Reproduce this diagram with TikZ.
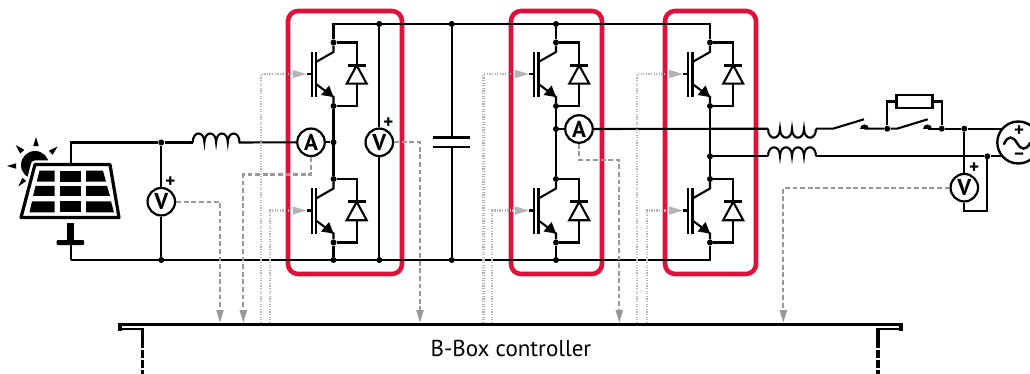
\documentclass[tikz,border=0pt]{standalone}
\usepackage{fontspec}
\setmainfont{PT Sans}
\usetikzlibrary{arrows.meta}
\definecolor{boxred}{HTML}{E0103A}
\definecolor{sensegray}{HTML}{999999}
\definecolor{gategray}{HTML}{B4B4B4}
\tikzset{
  wire/.style={line width=2.1pt,black,line join=miter},
  dot/.style={circle,fill=black,inner sep=0pt,minimum size=6pt},
  meter/.style={circle,draw=black,fill=white,line width=2.2pt,inner sep=0pt,minimum size=27.5pt,
    font=\fontsize{23}{23}\selectfont\bfseries},
  sign/.style={inner sep=0pt,font=\fontsize{19}{19}\selectfont\bfseries},
  legbox/.style={draw=boxred,line width=4.6pt,rounded corners=10pt},
  sense/.style={draw=sensegray,line width=2.1pt,dash pattern=on 4.8pt off 2.8pt,
    -{Triangle[length=13pt,width=7pt,fill=sensegray]}},
  gatesig/.style={draw=gategray,line width=2.1pt,dash pattern=on 1.3pt off 1.3pt,
    -{Triangle[length=14pt,width=7.6pt,fill=gategray]}},
}
\begin{document}
\begin{tikzpicture}[x=1pt,y=-1pt]
  \useasboundingbox (0,0) rectangle (1030,374);
  % red boxes
  \draw[legbox] (288,11) rectangle (402,274);
  \draw[legbox] (511,11) rectangle (602,274);
  \draw[legbox] (665,11) rectangle (756,274);
  % sun
  \fill (35,165) circle (14);
  \begin{scope}[shift={(36,166)}]
    \foreach \a/\r in {-90/29,-134/29,-42/29,180/29,131/27}
      \fill (\a:\r) -- ({\a-8}:\r-9) -- ({\a+8}:\r-9) -- cycle;
  \end{scope}
  % solar panel
  \draw[white,line width=8pt,line join=round] (35,164.5) -- (110,164.5) -- (119,217.5) -- (21,217.5) -- cycle;
  \draw[fill=white,line width=3.2pt,line join=round] (35,164.5) -- (110,164.5) -- (119,217.5) -- (21,217.5) -- cycle;
  \foreach \ya/\yb/\la/\lb/\ra/\rb in {170.7/181.7/39.5/36.7/103/106,186/196/35.5/33/107/110,201.3/212.3/32/29.5/111/114}{
    \fill (\la,\ya) -- (54.7,\ya) -- (54.7,\yb) -- (\lb,\yb) -- cycle;
    \fill (60.3,\ya) rectangle (80.7,\yb);
    \fill (86,\ya) -- (\ra,\ya) -- (\rb,\yb) -- (86,\yb) -- cycle;
  }
  \fill (66.7,223) rectangle (74,240);
  \fill[rounded corners=1pt] (56.7,240) rectangle (84,245);
  % main points
  \coordinate (pvT) at (70.7,164);
  \coordinate (pvB) at (70.7,245);
  \coordinate (topL) at (333.5,24);
  \coordinate (topR) at (710,24);
  \coordinate (botL) at (70.7,260);
  \coordinate (botR) at (710,260);
  \coordinate (pvC) at (70.7,142.5);
  \coordinate (LdcA) at (192.7,142.5);
  \coordinate (LacA) at (768,128.7);
  \coordinate (LacB) at (768,156.3);
  \node[dot] (pvTop) at (161.3,142.5) {};
  \node[dot] (pvBot) at (161.3,260) {};
  \node[dot] (vdcT) at (379.3,24) {};
  \node[dot] (vdcB) at (379.3,260) {};
  \node[dot] (capT) at (451.7,24) {};
  \node[dot] (capB) at (451.7,260) {};
  \node[dot] (legbT) at (556,24) {};
  \node[dot] (legbB) at (556,260) {};
  \node[dot] (legaB) at (333.5,260) {};
  \node[dot] (midA) at (333.5,142.3) {};
  \node[dot] (midB) at (556,129) {};
  \node[dot] (midC) at (710,156.3) {};
  % meters
  \node[meter] (V1) at (161.3,201.7) {V};
  \node[meter] (A1) at (311,142.3) {A};
  \node[meter] (V2) at (379.3,142.3) {V};
  \node[meter] (A2) at (579,129) {A};
  \node[meter] (V3) at (964.3,187.7) {V};
  \node[sign] at (170.5,181.7) {+};
  \node[sign] at (388.3,122.7) {+};
  \node[sign] at (974,168.3) {+};
  % IGBT legs
  \foreach \leg/\cx/\cy/\gx in {aH/333.5/42.5/261,aL/333.5/179/270,bH/556/42.5/483.5,bL/556/179/492.3,cH/710/42.5/637.3,cL/710/179/646.7}{
    \begin{scope}[shift={(\cx,\cy)}]
      \node[dot] (\leg c) at (0,0) {};
      \node[dot] (\leg e) at (0,63.5) {};
      \coordinate (\leg g) at (-21.8,31.5);
      \coordinate (\leg t) at (-26.8,31.5);
      \draw[wire] (-21.8,9.5) -- (-21.8,54.5) (-17.5,9.5) -- (-17.5,54.5);
      \draw[wire] (\leg t) -- (\leg g);
      \draw[wire] (\leg c) -- (0,9.5) -- (-17.5,19.5);
      \draw[wire] (\leg e) -- (0,54.5) -- (-17.5,41.5);
      \fill (0,54.5) -- (-12.5,52.5) -- (-4.4,43) -- cycle;
      % diode
      \draw[wire] (\leg c) -- (23.2,0) -- (23.2,63.5) -- (\leg e);
      \draw[wire,fill=white] (23.2,22.8) -- (33.2,41.2) -- (13.2,41.2) -- cycle;
      \draw[line width=3pt] (14.2,22.8) -- (32.2,22.8);
    \end{scope}
  }
  % dc side
  \draw[wire] (botL) -- (pvB);
  \draw[wire] (pvT) -- (pvC) -- (pvTop) -- (LdcA);
  \draw[wire] (LdcA) \foreach \i in {1,...,4}{.. controls +(0,-12) and +(0,-12) .. ++(11.7,0)} -- (A1.west);
  \draw[wire] (pvTop) -- (V1.north);
  \draw[wire] (V1.south) -- (pvBot);
  \draw[wire] (botL) -- (botR) -- (cLe);
  \draw[wire] (aHc) -- (topL) -- (topR) -- (cHc);
  \draw[wire] (A1.east) -- (midA);
  \draw[wire] (aHe) -- (aLc);
  \draw[wire] (aLe) -- (legaB);
  \draw[wire] (vdcT) -- (V2.north);
  \draw[wire] (V2.south) -- (vdcB);
  \draw[wire] (legbT) -- (bHc);
  \draw[wire] (bHe) -- (bLc);
  \draw[wire] (bLe) -- (legbB);
  \draw[wire] (cHe) -- (cLc);
  % capacitor
  \coordinate (capU) at (451.7,137.3);
  \coordinate (capL) at (451.7,147);
  \draw[wire] (capT) -- (capU);
  \draw[wire] (capL) -- (capB);
  \draw[line width=2.8pt] (433,137.3) -- (470,137.3);
  \draw[line width=2.8pt] (433,147) -- (470,147);
  % ac side
  \draw[wire] (A2) -- (midB);
  \draw[wire] (A2.east) -- (LacA);
  \draw[wire] (midC) -- (LacB);
  \draw[wire] (LacA) \foreach \i in {1,...,4}{.. controls +(0,12) and +(0,12) .. ++(12,0)} coordinate (LacAe);
  \draw[wire] (LacB) \foreach \i in {1,...,4}{.. controls +(0,-12) and +(0,-12) .. ++(12,0)} coordinate (LacBe);
  \coordinate (swAa) at (833,128.7);
  \coordinate (swAb) at (864.3,128.7);
  \node[dot] (swBa) at (887.3,128.7) {};
  \coordinate (swBb) at (897,128.7);
  \coordinate (swBc) at (927.7,128.7);
  \node[dot] (swBd) at (941.7,128.7) {};
  \node[dot] (gridA) at (964.3,128.7) {};
  \node[dot] (gridB) at (987.3,156.3) {};
  \node[draw,line width=2.1pt,inner sep=0pt,minimum width=36pt,minimum height=12.6pt] (res) at (914.5,101.5) {};
  \coordinate (srcA) at (1002.5,128.7);
  \coordinate (srcB) at (1002.5,156.3);
  \draw[wire] (LacAe) -- (swAa) -- (864,119.3);
  \draw[wire] (swAb) -- (swBa) -- (swBb) -- (927.7,119.3);
  \draw[wire] (swBc) -- (swBd) -- (gridA) -- (srcA);
  \draw[wire] (LacBe) -- (gridB) -- (srcB);
  \foreach \bx in {864.3,927.7}
    \fill (\bx-4.5,128.7) .. controls (\bx-4.5,123) and (\bx+4.5,123) .. (\bx+4.5,128.7) -- cycle;
  \draw[wire] (swBa) |- (res.west);
  \draw[wire] (res.east) -| (swBd);
  \draw[wire] (gridA) -- (V3.north);
  \draw[wire] (V3.south) |- (987.3,210.7) -- (gridB);
  % grid source
  \node[circle,draw,line width=2.4pt,inner sep=0pt,minimum size=42pt] (grid) at (1018.3,142.5) {};
  \draw[line width=2.4pt,line cap=round] (1004,144) .. controls (1008,135) and (1013,136) .. (1017,143) .. controls (1021,150) and (1026,151) .. (1030,143);
  \node[sign] at (1019,130.7) {+};
  \node[sign] at (1019,157) {−};
  % controller
  \coordinate (ctlL) at (119,324);
  \coordinate (ctlR) at (902,324);
  \draw[line width=3pt] (ctlL) -- (ctlR);
  \draw[line width=2pt] (119,328.5) -- (144,328.5);
  \draw[line width=2pt] (877,328.5) -- (902,328.5);
  \draw[line width=3.4pt] (120,322.5) -- (120,330.5);
  \draw[line width=3.4pt] (901,322.5) -- (901,330.5);
  \foreach \lx in {142.7,878}
    \draw[line width=3.2pt,dash pattern=on 20pt off 2.4pt on 7.4pt off 2.4pt on 7.4pt off 2.4pt on 7.4pt off 2.4pt] (\lx,328) -- (\lx,374);
  \node[inner sep=0pt,anchor=base] (ctl) at (511,356.5) {\fontsize{23}{23}\selectfont B-Box controller};
  % signals to controller
  \coordinate (sV1) at (220,323);
  \coordinate (sA1) at (243.3,323);
  \coordinate (sV2) at (420,323);
  \coordinate (sA2) at (619.3,323);
  \coordinate (sV3) at (783.3,323);
  \draw[sense] (V1.east) -| (sV1);
  \draw[sense] (A1.south) |- (243.3,174.5) -- (sA1);
  \draw[sense] (V2.east) -| (sV2);
  \draw[sense] (A2.south) |- (619.3,160) -- (sA2);
  \draw[sense] (V3.west) -| (sV3);
  \foreach \leg/\gx in {aH/261,aL/270,bH/483.5,bL/492.3,cH/637.3,cL/646.7}{
    \coordinate (s\leg) at (\gx,323);
    \draw[gatesig] (s\leg) |- (\leg t);
  }
\end{tikzpicture}
\end{document}
